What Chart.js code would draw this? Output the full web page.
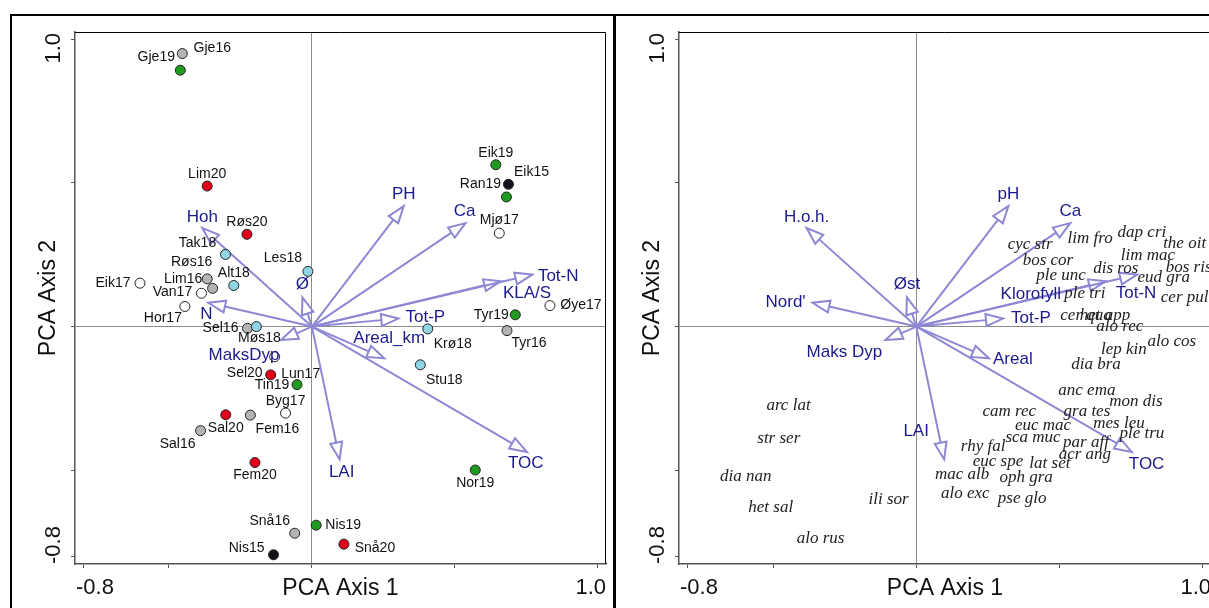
<!DOCTYPE html>
<html>
<head>
<meta charset="utf-8">
<script src="https://cdn.jsdelivr.net/npm/chart.js@4.4.0/dist/chart.umd.min.js"></script>
<style>
html, body { margin: 0; padding: 0; background: #fff; width: 1209px; height: 608px; overflow: hidden; position: relative; }
canvas { position: absolute; top: 0; }
.frame { position: absolute; background: #000; }
</style>
</head>
<body>
<canvas id="left" width="612" height="608" style="left:0"></canvas>
<canvas id="right" width="612" height="608" style="left:604px"></canvas>
<div class="frame" style="left:10px;top:14px;width:1199px;height:2px"></div>
<div class="frame" style="left:10px;top:14px;width:2px;height:594px"></div>
<div class="frame" style="left:613px;top:14px;width:3px;height:594px"></div>
<script>
// axes
var xRange = [-0.828, 1.028];
var yRange = [-0.826, 1.025];
var tickValues = [-0.8, -0.5, 0, 0.5, 1.0];
var tickLabels = ['-0.8', '1.0'];   // only the two ends carry a label
var axisTitles = ['PCA Axis 1', 'PCA Axis 2'];

// sites (left panel), colour comes from the year in the name
var sampleNames = ['Gje16','Gje19','Lim20','Røs20','Tak18','Lim16','Røs16','Alt18','Eik17','Van17',
  'Hor17','Les18','Sel16','Møs18','Lun17','Sel20','Tin19','Byg17','Sal20','Fem16',
  'Sal16','Fem20','Snå16','Nis15','Nis19','Snå20','Nor19','Stu18','Krø18','Tyr19',
  'Tyr16','Øye17','Eik19','Eik15','Ran19','Mjø17'];
var sampleX = [-0.453,-0.460,-0.366,-0.227,-0.302,-0.366,-0.347,-0.273,-0.601,-0.386,
  -0.444,-0.014,-0.225,-0.194,-0.130,-0.144,-0.052,-0.092,-0.301,-0.215,
  -0.389,-0.199,-0.060,-0.134,0.015,0.112,0.571,0.379,0.405,0.711,
  0.682,0.832,0.643,0.687,0.680,0.655];
var sampleY = [0.950,0.892,0.489,0.321,0.251,0.166,0.133,0.143,0.151,0.116,
  0.070,0.192,-0.006,0.000,-0.105,-0.168,-0.202,-0.301,-0.307,-0.308,
  -0.362,-0.473,-0.719,-0.794,-0.691,-0.757,-0.499,-0.133,-0.008,0.041,
  -0.014,0.073,0.563,0.495,0.451,0.325];

// environmental vectors (same in both panels, different names)
var envNamesLeft = ['Hoh','PH','Ca','Tot-N','KLA/S','Tot-P','Areal_km','TOC','LAI','N','Ø','MaksDyp'];
var envNamesRight = ['H.o.h.','pH','Ca','Tot-N','Klorofyll','Tot-P','Areal','TOC','LAI',"Nord'",'Øst','Maks Dyp'];
var envX = [-0.383, 0.321, 0.537, 0.770, 0.661, 0.302, 0.253, 0.751, 0.097, -0.362, -0.033, -0.108];
var envY = [0.343, 0.419, 0.360, 0.181, 0.158, 0.028, -0.110, -0.436, -0.462, 0.083, 0.102, -0.047];

// species (right panel)
var speciesNames = ['cyc str','lim fro','dap cri','the oit','lim mac','bos cor','bos ris','ple unc','dis ros','eud gra',
  'ple tri','cer pul','cer qua','het app','alo rec','alo cos','lep kin','dia bra','anc ema','mon dis',
  'gra tes','cam rec','mes leu','ple tru','euc mac','sca muc','par aff','acr ang','rhy fal','euc spe',
  'lat set','mac alb','oph gra','alo exc','pse glo','arc lat','str ser','dia nan','het sal','alo rus','ili sor'];
var speciesX = [0.397,0.606,0.787,0.936,0.808,0.459,0.950,0.505,0.696,0.863,
  0.588,0.936,0.592,0.658,0.710,0.891,0.724,0.627,0.595,0.766,
  0.595,0.324,0.707,0.787,0.442,0.407,0.592,0.588,0.233,0.285,
  0.466,0.160,0.383,0.171,0.369,-0.446,-0.480,-0.595,-0.508,-0.334,-0.097];
var speciesY = [0.285,0.308,0.326,0.288,0.247,0.230,0.207,0.178,0.201,0.172,
  0.114,0.102,0.038,0.038,0.000,-0.051,-0.081,-0.133,-0.221,-0.261,
  -0.296,-0.296,-0.337,-0.372,-0.343,-0.386,-0.403,-0.444,-0.418,-0.470,
  -0.475,-0.516,-0.525,-0.581,-0.598,-0.275,-0.389,-0.522,-0.630,-0.738,-0.603];

// label placement (pixels, relative to the mark)
var sampleLabelOffsets = [[30,-5],[-24,-13],[0,-12],[0,-12],[-28,-11],[-24,0],[-21,-26],[0,-12],[-27,0],[-29,-1],
  [-22,12],[-25,-13],[-27,0],[3,12],[26,17],[-26,-2],[-25,0],[0,-12],[0,13],[27,14],
  [-23,13],[0,13],[-25,-12],[-27,-7],[27,0],[31,4],[0,13],[24,15],[25,15],[-24,0],
  [22,13],[31,0],[0,-12],[23,-12],[-26,-13],[0,-13]];
var envOffsetsLeft = [[0,-11],[0,-12],[-1,-12],[26,2],[26,12],[27,-1],[5,-20],[-1,11],[2,13],[-2,12],[0,-13],[-37,15]];
var envOffsetsRight = [[0,-11],[0,-12],[0,-12],[-1,19],[-75,13],[28,0],[24,1],[15,12],[-28,-28],[-27,0],[0,-13],[-41,12]];

var yearColors = { '15': '#111118', '16': '#b4b4b4', '17': '#ffffff', '18': '#8fd5e6', '19': '#1e9b1e', '20': '#e2001a' };
var arrowColor = '#8e88d4';
var envColor = '#1a1a8c';
var sansFont = '"Liberation Sans", Arial, sans-serif';

function drawArrow(ctx, x0, y0, x1, y1) {
    var ang = Math.atan2(y1 - y0, x1 - x0);
    var len = 17, half = 6;
    var bx = x1 - len * Math.cos(ang);
    var by = y1 - len * Math.sin(ang);
    ctx.beginPath();
    ctx.moveTo(x0, y0);
    ctx.lineTo(bx, by);
    ctx.stroke();
    ctx.beginPath();
    ctx.moveTo(x1, y1);
    ctx.lineTo(bx + half * Math.sin(ang), by - half * Math.cos(ang));
    ctx.lineTo(bx - half * Math.sin(ang), by + half * Math.cos(ang));
    ctx.closePath();
    ctx.stroke();
}

var biplot = {
    id: 'biplot',
    beforeDatasetsDraw: function (chart) {
        var ctx = chart.ctx, xs = chart.scales.x, ys = chart.scales.y;
        var ox = xs.getPixelForValue(0), oy = ys.getPixelForValue(0);
        ctx.save();
        ctx.strokeStyle = arrowColor;
        ctx.lineWidth = 2;
        for (var i = 0; i < envX.length; i++) {
            drawArrow(ctx, ox, oy, xs.getPixelForValue(envX[i]), ys.getPixelForValue(envY[i]));
        }
        ctx.restore();
    },
    afterDatasetsDraw: function (chart, args, opts) {
        var ctx = chart.ctx, xs = chart.scales.x, ys = chart.scales.y;
        ctx.save();
        ctx.textAlign = 'center';
        ctx.textBaseline = 'middle';

        // text attached to the dataset points
        var meta = chart.getDatasetMeta(0);
        ctx.font = opts.pointFont;
        ctx.fillStyle = opts.pointColor;
        for (var i = 0; i < meta.data.length; i++) {
            var off = opts.pointOffsets ? opts.pointOffsets[i] : [0, 0];
            ctx.fillText(opts.pointNames[i], meta.data[i].x + off[0], meta.data[i].y + off[1]);
        }

        // vector names
        ctx.font = '17px ' + sansFont;
        ctx.fillStyle = envColor;
        for (var j = 0; j < envX.length; j++) {
            ctx.fillText(opts.envNames[j],
                xs.getPixelForValue(envX[j]) + opts.envOffsets[j][0],
                ys.getPixelForValue(envY[j]) + opts.envOffsets[j][1]);
        }
        ctx.restore();
    },
    afterDraw: function (chart) {
        var ctx = chart.ctx, a = chart.chartArea;
        ctx.save();
        ctx.strokeStyle = '#000';
        ctx.lineWidth = 1;
        ctx.beginPath();
        ctx.moveTo(a.left, a.top + 0.5);
        ctx.lineTo(a.right - 0.5, a.top + 0.5);
        ctx.lineTo(a.right - 0.5, a.bottom);
        ctx.stroke();

        ctx.fillStyle = '#111';
        ctx.textBaseline = 'middle';
        ctx.font = '22px ' + sansFont;
        ctx.textAlign = 'left';
        ctx.fillText(tickLabels[0], a.left + 1, a.bottom + 24);
        ctx.textAlign = 'right';
        ctx.fillText(tickLabels[1], a.right, a.bottom + 24);
        ctx.font = '23px ' + sansFont;
        ctx.textAlign = 'center';
        ctx.fillText(axisTitles[0], (a.left + a.right) / 2, a.bottom + 25);

        ctx.save();
        ctx.translate(a.left - 21, 0);
        ctx.rotate(-Math.PI / 2);
        ctx.font = '22px ' + sansFont;
        ctx.textAlign = 'left';
        ctx.fillText(tickLabels[0], -a.bottom, 0);
        ctx.textAlign = 'right';
        ctx.fillText(tickLabels[1], -a.top - 1, 0);
        ctx.restore();

        ctx.save();
        ctx.translate(a.left - 26, (a.top + a.bottom) / 2);
        ctx.rotate(-Math.PI / 2);
        ctx.font = '23px ' + sansFont;
        ctx.textAlign = 'center';
        ctx.fillText(axisTitles[1], 0, 0);
        ctx.restore();
        ctx.restore();
    }
};

function axis(range) {
    return {
        type: 'linear',
        min: range[0],
        max: range[1],
        afterBuildTicks: function (s) {
            s.ticks = tickValues.map(function (v) { return { value: v }; });
        },
        ticks: { display: false },
        grid: {
            drawOnChartArea: true,
            color: function (c) { return c.tick && c.tick.value === 0 ? '#8c8c8c' : 'rgba(0,0,0,0)'; },
            lineWidth: 1,
            tickColor: '#555',
            tickLength: 4,
            tickWidth: 1
        },
        border: { display: true, color: '#555', width: 1.5 }
    };
}

function makeChart(id, dataset, pluginOpts) {
    return new Chart(document.getElementById(id).getContext('2d'), {
        type: 'scatter',
        data: { datasets: [dataset] },
        options: {
            responsive: false,
            animation: false,
            events: [],
            layout: { padding: { left: 71, top: 32, right: 5, bottom: 40 } },
            scales: { x: axis(xRange), y: axis(yRange) },
            plugins: {
                legend: { display: false },
                tooltip: { enabled: false },
                biplot: pluginOpts
            }
        },
        plugins: [biplot]
    });
}

makeChart('left', {
    data: sampleNames.map(function (n, i) { return { x: sampleX[i], y: sampleY[i] }; }),
    pointRadius: 5,
    pointBorderWidth: 1,
    pointBorderColor: '#222',
    pointBackgroundColor: sampleNames.map(function (n) { return yearColors[n.slice(-2)]; })
}, {
    pointNames: sampleNames,
    pointOffsets: sampleLabelOffsets,
    pointFont: '14px ' + sansFont,
    pointColor: '#111',
    envNames: envNamesLeft,
    envOffsets: envOffsetsLeft
});

makeChart('right', {
    data: speciesNames.map(function (n, i) { return { x: speciesX[i], y: speciesY[i] }; }),
    pointRadius: 0
}, {
    pointNames: speciesNames,
    pointOffsets: null,
    pointFont: 'italic 17px "Liberation Serif", "Times New Roman", serif',
    pointColor: '#222',
    envNames: envNamesRight,
    envOffsets: envOffsetsRight
});
</script>
</body>
</html>
